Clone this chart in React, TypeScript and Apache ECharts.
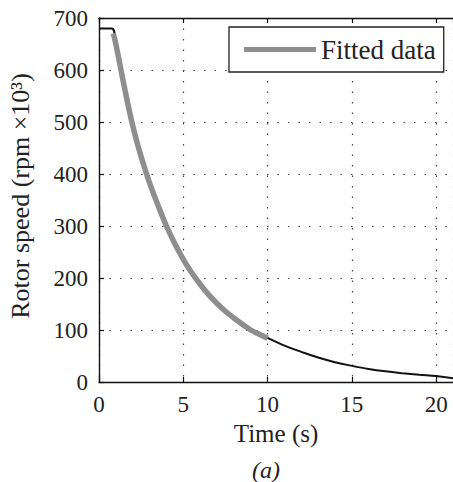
import React, { useEffect, useRef } from "react";
import * as echarts from "echarts";

// Measured rotor speed (rpm x10^3) vs time (s)
const measuredTime = [0, 0.75, 1, 1.5, 2, 2.5, 3, 3.5, 4, 4.5, 5, 5.5, 6, 6.5, 7, 7.5, 8, 8.5, 9, 9.5, 10, 11, 12, 13, 14, 15, 16, 17, 18, 19, 20, 21];
const measuredSpeed = [680, 680, 650, 568, 493, 433, 383, 340, 300, 266, 236, 210, 188, 168, 151, 136, 123, 111, 100, 92, 85, 70, 58, 47, 38, 31, 25, 20.5, 17, 14, 11.5, 7];

// Fitted curve
const fittedTime = [0.85, 1, 1.5, 2, 2.5, 3, 3.5, 4, 4.5, 5, 5.5, 6, 6.5, 7, 7.5, 8, 8.5, 9, 9.5, 10];
const fittedSpeed = [670, 650, 568, 493, 433, 383, 340, 300, 266, 236, 210, 188, 168, 151, 136, 123, 111, 100, 92, 84];

const legendLabel = "Fitted data";
const xTitle = "Time (s)";
const yTitle = "Rotor speed (rpm ×10³)";
const caption = "(a)";

export default function App() {
  const ref = useRef<HTMLDivElement>(null);
  useEffect(() => {
    document.body.style.margin = "0";
    const chart = echarts.init(ref.current!, null, { renderer: "svg" });
    const font = "Liberation Serif, DejaVu Serif, serif";
    const gridStyle = { type: [1.5, 9] as any, color: "#444", width: 1.2 };
    const axisLineStyle = { color: "#111", width: 1.4 };
    const tickStyle = { color: "#111", width: 1.2 };
    chart.setOption({
      animation: false,
      backgroundColor: "#fff",
      grid: { left: 99, top: 18, right: -3, bottom: 100 },
      xAxis: [
        {
          type: "value",
          min: 0,
          max: 21,
          interval: 5,
          position: "bottom",
          axisLine: { show: true, onZero: false, lineStyle: axisLineStyle },
          axisTick: { show: true, inside: true, length: 5, lineStyle: tickStyle },
          axisLabel: { margin: 11, fontSize: 23, fontFamily: font, color: "#222", showMaxLabel: false },
          splitLine: { show: true, lineStyle: gridStyle },
          name: xTitle,
          nameLocation: "middle",
          nameGap: 38,
          nameTextStyle: { fontSize: 25, fontFamily: font, color: "#222" },
        },
        {
          type: "value",
          min: 0,
          max: 21,
          interval: 5,
          position: "top",
          axisLine: { show: true, onZero: false, lineStyle: axisLineStyle },
          axisTick: { show: true, inside: true, length: 5, lineStyle: tickStyle },
          axisLabel: { show: false },
          splitLine: { show: false },
        },
      ],
      yAxis: [
        {
          type: "value",
          min: 0,
          max: 700,
          interval: 100,
          axisLine: { show: true, onZero: false, lineStyle: axisLineStyle },
          axisTick: { show: true, inside: true, length: 5, lineStyle: tickStyle },
          axisLabel: { margin: 11, fontSize: 23, fontFamily: font, color: "#222" },
          splitLine: { show: true, lineStyle: gridStyle },
        },
      ],
      legend: {
        data: [legendLabel],
        left: 229,
        top: 27,
        padding: [9, 8, 9, 15],
        itemWidth: 72,
        itemHeight: 5,
        itemGap: 0,
        icon: "rect",
        borderColor: "#222",
        borderWidth: 1.3,
        borderRadius: 0,
        backgroundColor: "#fff",
        textStyle: { fontSize: 27, fontFamily: font, color: "#222" },
      },
      series: [
        {
          name: "Measured",
          type: "line",
          data: measuredTime.map((t, i) => [t, measuredSpeed[i]]),
          showSymbol: false,
          smooth: 0.4,
          lineStyle: { color: "#111", width: 2 },
          itemStyle: { color: "#111" },
          z: 2,
        },
        {
          name: legendLabel,
          type: "line",
          data: fittedTime.map((t, i) => [t, fittedSpeed[i]]),
          showSymbol: false,
          smooth: 0.4,
          lineStyle: { color: "#8e8e8e", width: 5.5, cap: "butt" },
          itemStyle: { color: "#8e8e8e" },
          z: 3,
        },
      ],
      graphic: [
        {
          type: "text",
          x: 20,
          y: 196,
          rotation: Math.PI / 2,
          style: {
            text: yTitle,
            fontSize: 26,
            fontFamily: font,
            fill: "#222",
            align: "center",
            verticalAlign: "middle",
          },
        },
        {
          type: "text",
          x: 266,
          y: 470,
          style: {
            text: caption,
            fontSize: 24,
            fontStyle: "italic",
            fontFamily: font,
            fill: "#222",
            align: "center",
            verticalAlign: "middle",
          },
        },
      ],
    });
    return () => chart.dispose();
  }, []);
  return <div ref={ref} style={{ width: 453, height: 482 }} />;
}
